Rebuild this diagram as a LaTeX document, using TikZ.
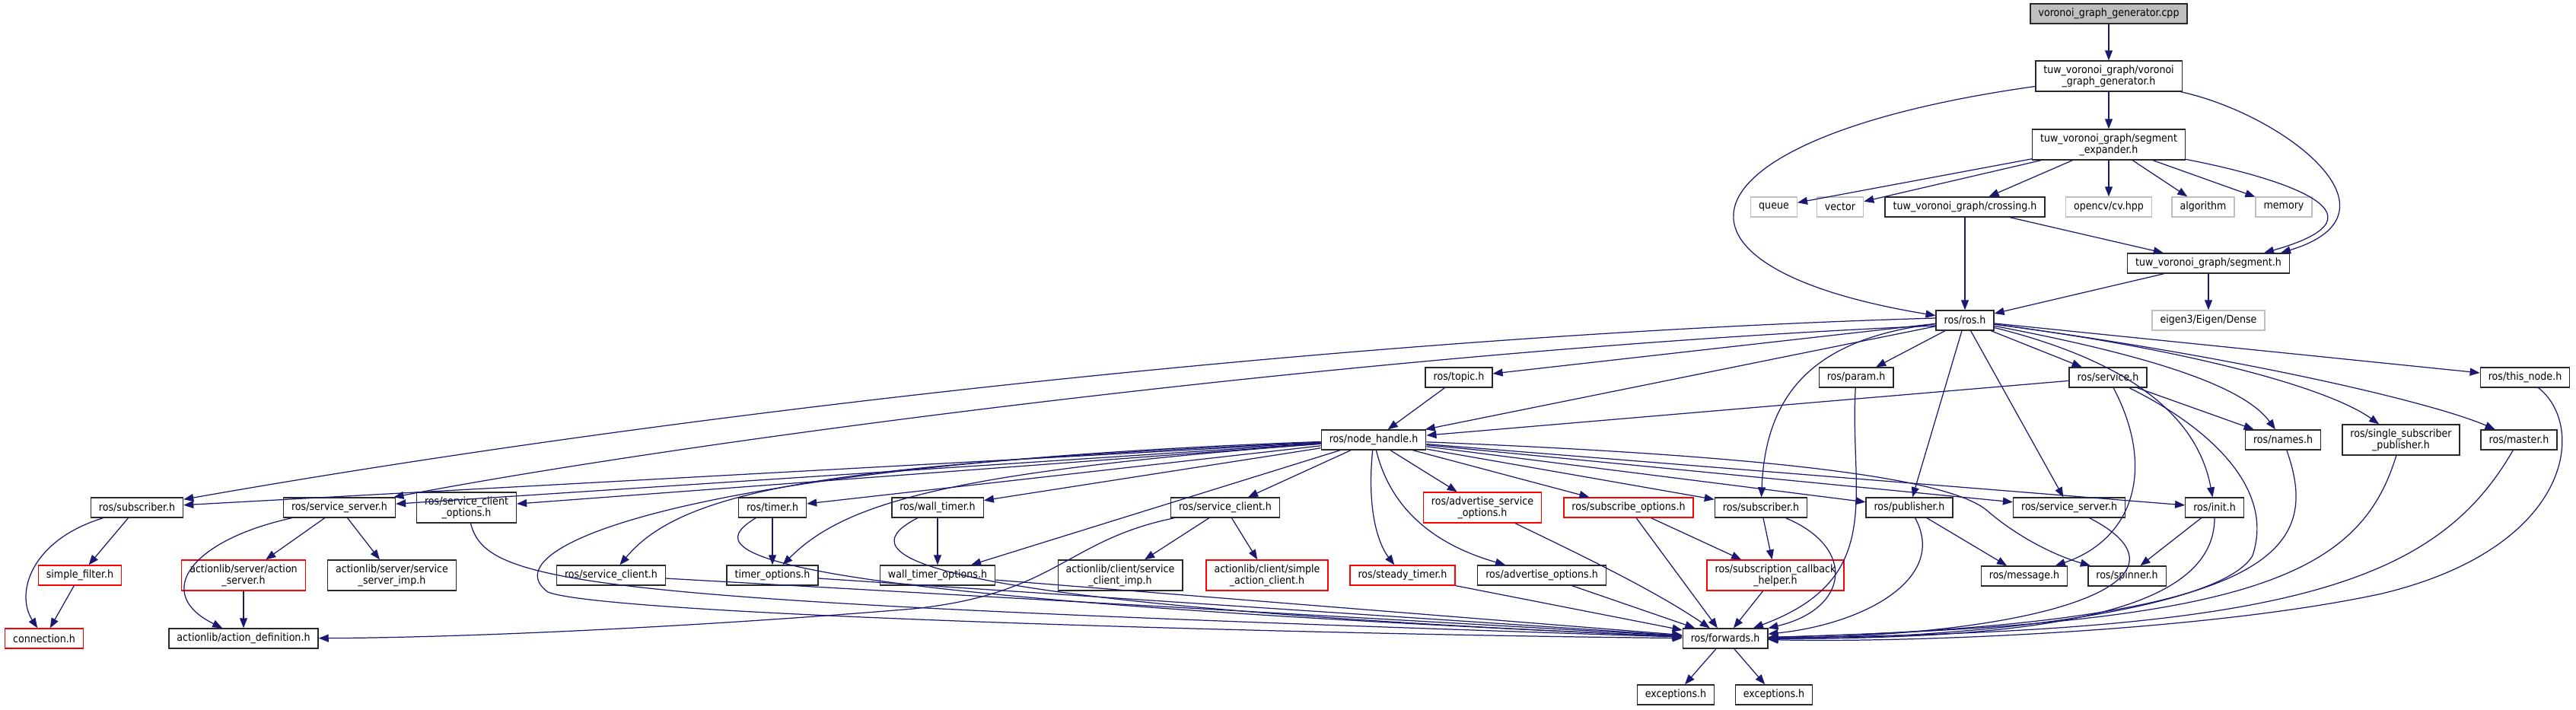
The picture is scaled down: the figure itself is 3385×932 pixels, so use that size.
\documentclass[tikz,border=0pt]{standalone}
\usepackage{fontspec}
\setmainfont{DejaVu Sans Condensed}
\usepackage{tikz}
\usetikzlibrary{arrows.meta,calc}
\usepackage{xcolor}
\definecolor{edgeblue}{RGB}{25,25,112}
\definecolor{sysgray}{RGB}{191,191,191}
\definecolor{boxline}{RGB}{40,40,40}
\tikzset{
  hdr/.style={draw=boxline,line width=0.8pt,fill=white,align=center,
    font=\fontsize{8}{8.6}\selectfont,inner xsep=2.1mm,inner ysep=0pt,minimum height=5.2mm},
  tall/.style={minimum height=8mm},
  sys/.style={hdr,draw=sysgray},
  nodoc/.style={hdr,draw=red},
  src/.style={hdr,fill=sysgray},
  arr/.style={draw=edgeblue,line width=0.7pt,-{Triangle[length=2.6mm,width=2mm]}},
}

\begin{document}
\begin{tikzpicture}[x=0.2mm,y=-0.2mm]
  \useasboundingbox (0,0) rectangle (3385,932);
  % top part
  \node[src] (cpp) at (2771,18) {voronoi\_graph\_generator.cpp};
  \node[hdr,tall] (vgg) at (2771,100) {tuw\_voronoi\_graph/voronoi\\\_graph\_generator.h};
  \node[hdr,tall] (sexp) at (2771,190) {tuw\_voronoi\_graph/segment\\\_expander.h};
  \node[sys] (queue) at (2331,272) {queue};
  \node[sys] (vector) at (2418,272) {vector};
  \node[hdr] (crossing) at (2582,272) {tuw\_voronoi\_graph/crossing.h};
  \node[sys] (opencv) at (2771,272) {opencv/cv.hpp};
  \node[sys] (algorithm) at (2895,272) {algorithm};
  \node[sys] (memory) at (3001,272) {memory};
  \node[hdr] (segment) at (2902,346) {tuw\_voronoi\_graph/segment.h};
  \node[sys] (eigen) at (2902,421) {eigen3/Eigen/Dense};
  \node[hdr] (ros) at (2582,421) {ros/ros.h};
  % ros headers
  \node[hdr] (topic) at (1917,496) {ros/topic.h};
  \node[hdr] (param) at (2439,496) {ros/param.h};
  \node[hdr] (service) at (2770,496) {ros/service.h};
  \node[hdr] (thisnode) at (3318,496) {ros/this\_node.h};
  \node[hdr] (nh) at (1805,578) {ros/node\_handle.h};
  \node[hdr] (names) at (3000,578) {ros/names.h};
  \node[hdr,tall] (ssp) at (3155,578) {ros/single\_subscriber\\\_publisher.h};
  \node[hdr] (master) at (3310,578) {ros/master.h};
  \node[hdr] (subL) at (180,667) {ros/subscriber.h};
  \node[hdr] (ssrvL) at (446,667) {ros/service\_server.h};
  \node[hdr,tall] (sco) at (613,667) {ros/service\_client\\\_options.h};
  \node[hdr] (timer) at (1015,667) {ros/timer.h};
  \node[hdr] (wtimer) at (1232,667) {ros/wall\_timer.h};
  \node[hdr] (sclR) at (1610,667) {ros/service\_client.h};
  \node[nodoc,tall] (aso) at (1948,667) {ros/advertise\_service\\\_options.h};
  \node[nodoc] (subopt) at (2140,667) {ros/subscribe\_options.h};
  \node[hdr] (subR) at (2314,667) {ros/subscriber.h};
  \node[hdr] (pub) at (2509,667) {ros/publisher.h};
  \node[hdr] (ssrvR) at (2719,667) {ros/service\_server.h};
  \node[hdr] (init) at (2910,667) {ros/init.h};
  \node[nodoc] (sfilter) at (105,756) {simple\_filter.h};
  \node[nodoc,tall] (asrv) at (320,756) {actionlib/server/action\\\_server.h};
  \node[hdr,tall] (ssimp) at (515,756) {actionlib/server/service\\\_server\_imp.h};
  \node[hdr] (sclL) at (803,756) {ros/service\_client.h};
  \node[hdr] (topt) at (1015,756) {timer\_options.h};
  \node[hdr] (wtopt) at (1232,756) {wall\_timer\_options.h};
  \node[hdr,tall] (scimp) at (1472,756) {actionlib/client/service\\\_client\_imp.h};
  \node[nodoc,tall] (sac) at (1665,756) {actionlib/client/simple\\\_action\_client.h};
  \node[nodoc] (stimer) at (1843,756) {ros/steady\_timer.h};
  \node[hdr] (aopt) at (2026,756) {ros/advertise\_options.h};
  \node[nodoc,tall] (sch) at (2333,756) {ros/subscription\_callback\\\_helper.h};
  \node[hdr] (msg) at (2660,757) {ros/message.h};
  \node[hdr] (spinner) at (2795,757) {ros/spinner.h};
  \node[nodoc] (conn) at (58,839) {connection.h};
  \node[hdr] (adef) at (320,839) {actionlib/action\_definition.h};
  \node[hdr] (fwd) at (2267,839) {ros/forwards.h};
  \node[hdr] (exc1) at (2202,913) {exceptions.h};
  \node[hdr] (exc2) at (2331,913) {exceptions.h};

  % includes of the top part
  \draw[arr] (cpp) -- (vgg);
  \draw[arr] (vgg) -- (sexp);
  \draw[arr] (vgg) .. controls (2200,180) and (2150,350) .. (ros);
  \draw[arr] (vgg) .. controls (3000,150) and (3170,280) .. ($(segment.north)+(95,0)$);
  \draw[arr] (sexp) .. controls (2980,230) and (3160,280) .. ($(segment.north)+(73,0)$);
  \foreach \t in {queue,vector,crossing,opencv,algorithm,memory}
    \draw[arr] (sexp) -- (\t);
  \draw[arr] (crossing) -- (ros);
  \draw[arr] (crossing) -- (segment);
  \draw[arr] (segment) -- (ros);
  \draw[arr] (segment) -- (eigen);

  % ros/ros.h
  \foreach \t in {topic,nh,param,service,thisnode,pub,ssrvR}
    \draw[arr] (ros) -- (\t);
  \draw[arr] ($(ros.west)+(0,-3)$) .. controls (1800,440) and (900,540) .. (subL);
  \draw[arr] ($(ros.west)+(0,7)$) .. controls (1800,460) and (900,580) .. (ssrvL);
  \draw[arr] (ros) .. controls (2840,470) and (2950,510) .. (names);
  \draw[arr] (ros) .. controls (2880,460) and (3060,510) .. (ssp);
  \draw[arr] (ros) .. controls (2950,470) and (3200,530) .. (master);
  \draw[arr] (ros) .. controls (2820,480) and (2890,560) .. (init);
  \draw[arr] (ros) .. controls (2380,445) and (2320,520) .. (subR);
  \draw[arr] (topic) -- (nh);

  % ros/service.h
  \draw[arr] (service) -- (nh);
  \draw[arr] (service) -- (names);
  \draw[arr] (service) .. controls (2835,620) and (2800,710) .. (msg);
  \draw[arr] (service) .. controls (2900,560) and (2990,640) .. (2960,730)
     .. controls (2920,800) and (2600,840) .. (fwd);

  % ros/node_handle.h
  \foreach \t in {subL,ssrvL,sco,timer,wtimer,sclR,wtopt,aso,subopt,subR,pub,ssrvR,init}
    \draw[arr] (nh) -- (\t);
  \draw[arr] (nh) .. controls (1100,610) and (900,640) .. (sclL);
  \draw[arr] (nh) .. controls (1250,620) and (1110,660) .. (topt);
  \draw[arr] (nh) .. controls (1795,680) and (1815,720) .. (stimer);
  \draw[arr] (nh) .. controls (1830,680) and (1900,720) .. (aopt);
  \draw[arr] (nh) .. controls (2350,600) and (2560,630) .. (2610,670)
     .. controls (2650,705) and (2700,730) .. (spinner);
  \draw[arr] (nh) .. controls (900,610) and (640,720) .. (720,778)
     .. controls (800,810) and (1800,835) .. (fwd);

  % left part
  \draw[arr] (subL) -- (sfilter);
  \draw[arr] (subL) .. controls (40,710) and (20,780) .. (conn);
  \draw[arr] (sfilter) -- (conn);
  \draw[arr] (ssrvL) -- (asrv);
  \draw[arr] (ssrvL) -- (ssimp);
  \draw[arr] (ssrvL) .. controls (250,710) and (200,780) .. (adef);
  \draw[arr] (asrv) -- (adef);
  \draw[arr] (timer) -- (topt);
  \draw[arr] (wtimer) -- (wtopt);
  \draw[arr] (sclR) -- (scimp);
  \draw[arr] (sclR) -- (sac);
  \draw[arr] (sclR) .. controls (1400,710) and (1390,780) .. (1200,800)
     .. controls (900,825) and (600,838) .. (adef);

  % into ros/forwards.h
  \foreach \s in {sclL,topt,wtopt,subopt,sch,stimer,aopt}
    \draw[arr] (\s) -- (fwd);
  \draw[arr] (sco) .. controls (640,770) and (760,790) .. (fwd);
  \draw[arr] (timer) .. controls (930,720) and (900,780) .. (fwd);
  \draw[arr] (wtimer) .. controls (1130,720) and (1110,790) .. (fwd);
  \draw[arr] (aso) .. controls (2100,740) and (2180,780) .. (fwd);
  \draw[arr] (subR) .. controls (2440,720) and (2430,800) .. (fwd);
  \draw[arr] (param) .. controls (2430,650) and (2480,760) .. (fwd);
  \draw[arr] (pub) .. controls (2560,760) and (2450,820) .. (fwd);
  \draw[arr] (ssrvR) .. controls (2900,760) and (2700,835) .. (fwd);
  \draw[arr] (init) .. controls (2910,800) and (2700,840) .. (fwd);
  \draw[arr] (names) .. controls (3050,720) and (3000,820) .. (fwd);
  \draw[arr] (ssp) .. controls (3100,760) and (2950,820) .. (fwd);
  \draw[arr] (master) .. controls (3200,770) and (3000,830) .. (fwd);
  \draw[arr] (thisnode) .. controls (3400,560) and (3380,720) .. (3130,780)
     .. controls (2900,830) and (2500,845) .. (fwd);
  \draw[arr] (pub) -- (msg);
  \draw[arr] (subR) -- (sch);
  \draw[arr] (subopt) -- (sch);
  \draw[arr] (init) -- (spinner);
  \draw[arr] (fwd) -- (exc1);
  \draw[arr] (fwd) -- (exc2);
\end{tikzpicture}
\end{document}
